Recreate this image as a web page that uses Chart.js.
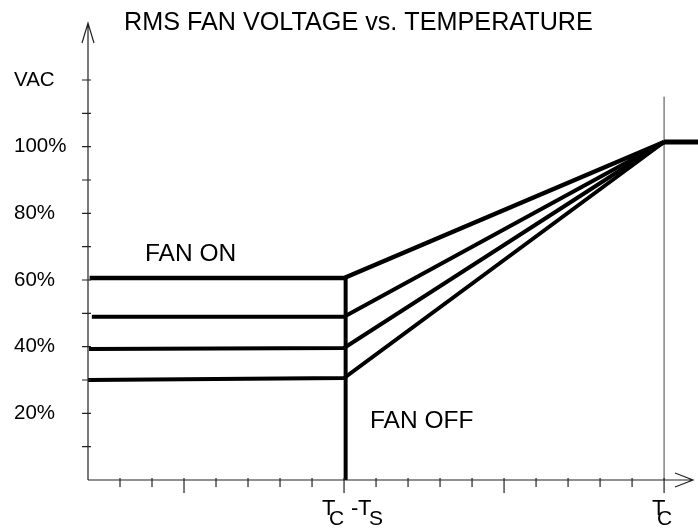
<!DOCTYPE html>
<html>
<head>
<meta charset="utf-8">
<title>RMS FAN VOLTAGE vs. TEMPERATURE</title>
<script src="https://cdn.jsdelivr.net/npm/chart.js@4.4.1/dist/chart.umd.min.js"></script>
<style>
  html, body { margin: 0; padding: 0; background: #fff; }
  canvas { display: block; }
</style>
</head>
<body>
<canvas id="fanChart" width="698" height="529"></canvas>
<script>
// Données (x = pas de température, y = % VAC)
const titleText = 'RMS FAN VOLTAGE vs. TEMPERATURE';
const switchTemp = 8;        // T_C - T_S
const critTemp = 18;         // T_C
const tempMax = 19.06;
const voltMax = 136.5;
const fullVoltage = 101.4;   // point de convergence à T_C
const barrierTop = 115;      // haut de la ligne verticale à T_C

const startTemps = [0.05, 0.12, 0.03, 0];
const fanOnStart = [60.6, 49.0, 39.3, 30.0];
const fanOnAtSwitch = [60.6, 49.0, 39.6, 30.6];
const curveWidths = [4.5, 4, 4, 4];

const voltLabelValues = [20, 40, 60, 80, 100, 120];
const voltLabels = ['20%', '40%', '60%', '80%', '100%', 'VAC'];
const voltMinorTicks = [10, 20, 30, 40, 50, 60, 70, 80, 90, 100, 110, 120];
const tempTicks = [1, 2, 3, 4, 5, 6, 7, 8, 9, 10, 11, 12, 13, 14, 15, 16, 17, 18];
const tempMajorTicks = [3, 8, 13, 18];

// Construction des séries
const datasets = fanOnStart.map((v, i) => ({
    data: [
        { x: startTemps[i], y: v },
        { x: switchTemp, y: fanOnAtSwitch[i] },
        { x: critTemp, y: fullVoltage }
    ],
    borderColor: '#000',
    borderWidth: curveWidths[i],
    borderJoinStyle: 'miter',
    pointRadius: 0,
    tension: 0
}));

// Plateau à 100% après T_C
datasets.push({
    data: [{ x: critTemp, y: fullVoltage }, { x: tempMax, y: fullVoltage }],
    borderColor: '#000', borderWidth: 5, pointRadius: 0
});
// Ligne verticale épaisse à T_C - T_S
datasets.push({
    data: [{ x: switchTemp + 0.05, y: 0 }, { x: switchTemp + 0.05, y: fanOnStart[0] }],
    borderColor: '#000', borderWidth: 4, pointRadius: 0
});
// Ligne verticale fine à T_C
datasets.push({
    data: [{ x: critTemp, y: 0 }, { x: critTemp, y: barrierTop }],
    borderColor: '#444', borderWidth: 1, pointRadius: 0
});

// Plugin pour les axes, graduations et textes
const axesPlugin = {
    id: 'axesPlugin',
    afterDatasetsDraw(chart) {
        const ctx = chart.ctx;
        const xs = chart.scales.x, ys = chart.scales.y;
        const x0 = xs.getPixelForValue(0);
        const y0 = ys.getPixelForValue(0);
        const xEnd = chart.width - 5;
        const yTop = ys.getPixelForValue(voltMax) - 2;

        ctx.save();
        ctx.strokeStyle = '#222';
        ctx.lineWidth = 1.2;
        ctx.beginPath();
        // axe Y + flèche
        ctx.moveTo(x0, y0); ctx.lineTo(x0, yTop);
        ctx.moveTo(x0 - 6, yTop + 20); ctx.lineTo(x0, yTop); ctx.lineTo(x0 + 6, yTop + 20);
        // axe X + flèche
        ctx.moveTo(x0, y0); ctx.lineTo(xEnd, y0);
        ctx.moveTo(xEnd - 18, y0 - 7); ctx.lineTo(xEnd, y0); ctx.lineTo(xEnd - 18, y0 + 7);
        // graduations Y
        voltMinorTicks.forEach(v => {
            const y = ys.getPixelForValue(v);
            ctx.moveTo(x0 - 6, y); ctx.lineTo(x0 + 3, y);
        });
        // graduations X
        tempTicks.forEach(t => {
            const x = xs.getPixelForValue(t);
            const len = tempMajorTicks.includes(t) ? 13 : 7;
            ctx.moveTo(x, y0 - 2); ctx.lineTo(x, y0 + len);
        });
        ctx.stroke();

        ctx.fillStyle = '#000';
        ctx.textBaseline = 'middle';
        ctx.textAlign = 'left';
        ctx.font = '20.5px "Liberation Sans", Arial, sans-serif';
        voltLabelValues.forEach((v, i) => {
            ctx.fillText(voltLabels[i], 14, ys.getPixelForValue(v));
        });

        ctx.textBaseline = 'alphabetic';
        ctx.font = '25.2px "Liberation Sans", Arial, sans-serif';
        ctx.fillText(titleText, 124, 30);

        ctx.font = '24.5px "Liberation Sans", Arial, sans-serif';
        ctx.fillText('FAN ON', 145, 261);
        ctx.fillText('FAN OFF', 370, 428);

        // étiquettes T_C - T_S et T_C
        const xs1 = xs.getPixelForValue(switchTemp);
        const xs2 = xs.getPixelForValue(critTemp);
        ctx.font = '22px "Liberation Sans", Arial, sans-serif';
        ctx.fillText('T', xs1 - 22, 515);
        ctx.fillText('-', xs1 + 7, 515);
        ctx.fillText('T', xs1 + 14, 515);
        ctx.fillText('T', xs2 - 12, 515);
        ctx.font = '21px "Liberation Sans", Arial, sans-serif';
        ctx.fillText('C', xs1 - 15, 525);
        ctx.fillText('S', xs1 + 25, 525);
        ctx.fillText('C', xs2 - 7, 525);
        ctx.restore();
    }
};

new Chart(document.getElementById('fanChart').getContext('2d'), {
    type: 'line',
    data: { datasets },
    options: {
        responsive: false,
        animation: false,
        layout: { padding: { left: 88, top: 25, right: 0, bottom: 49 } },
        plugins: { legend: { display: false }, tooltip: { enabled: false } },
        scales: {
            x: { type: 'linear', min: 0, max: tempMax, display: false },
            y: { type: 'linear', min: 0, max: voltMax, display: false }
        }
    },
    plugins: [axesPlugin]
});
</script>
</body>
</html>
